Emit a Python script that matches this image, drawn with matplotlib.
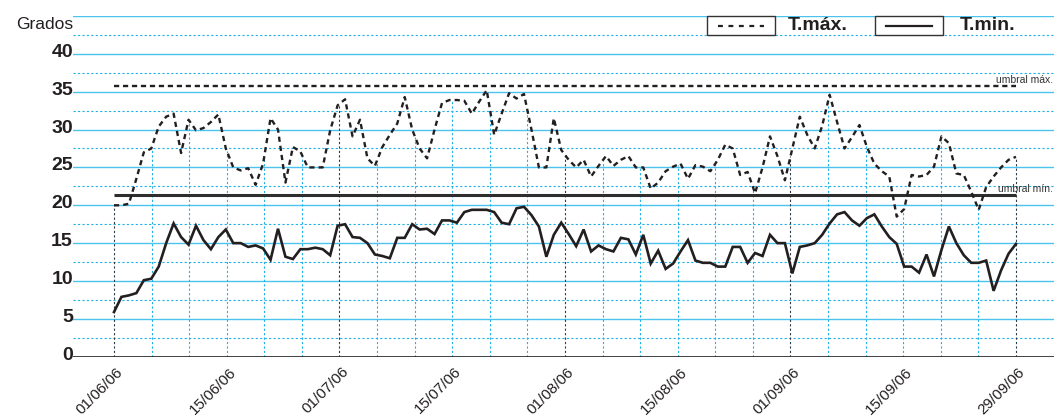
import matplotlib
matplotlib.use("Agg")
import matplotlib.pyplot as plt
import numpy as np
from matplotlib.patches import Rectangle
from matplotlib.lines import Line2D
from matplotlib.transforms import ScaledTranslation, blended_transform_factory

plt.rcParams["font.family"] = ["Liberation Sans", "DejaVu Sans"]

# Temperaturas diarias, 01/06/06 - 30/09/06 (grados)
t_max = [
    20.0, 20.0, 20.2, 23.5, 27.0, 27.5, 30.4, 31.7, 32.1, 26.9,
    31.3, 29.9, 30.2, 31.0, 32.0, 27.5, 25.0, 24.6, 24.9, 22.7,
    25.5, 31.5, 30.0, 23.0, 27.7, 27.1, 25.0, 25.0, 25.0, 29.9,
    33.2, 34.0, 29.1, 31.3, 26.2, 25.2, 27.7, 29.3, 30.8, 34.3,
    30.0, 27.5, 26.2, 30.0, 33.5, 33.9, 33.9, 33.8, 32.1, 33.7,
    35.2, 29.3, 32.1, 34.8, 34.1, 34.7, 30.0, 25.0, 25.0, 31.5,
    27.3, 26.0, 25.0, 26.0, 23.8, 25.2, 26.5, 25.2, 26.0, 26.5,
    25.0, 25.0, 22.2, 23.0, 24.5, 25.1, 25.5, 23.5, 25.3, 25.1,
    24.5, 26.0, 28.0, 27.5, 24.0, 24.4, 21.6, 25.0, 29.1, 26.5,
    23.3, 27.5, 31.7, 29.3, 27.5, 30.5, 34.6, 31.0, 27.5, 29.0,
    30.6, 27.7, 25.5, 24.5, 23.8, 18.5, 19.5, 24.0, 23.8, 24.0,
    25.1, 29.1, 28.2, 24.2, 24.0, 21.8, 19.4, 22.4, 23.8, 25.0,
    26.0, 26.4,
]
t_min = [
    5.9, 7.9, 8.1, 8.4, 10.1, 10.3, 11.9, 15.0, 17.6, 15.8,
    14.8, 17.3, 15.4, 14.2, 15.8, 16.8, 15.0, 15.0, 14.5, 14.7,
    14.3, 12.8, 16.9, 13.2, 12.9, 14.2, 14.2, 14.4, 14.2, 13.4,
    17.3, 17.5, 15.8, 15.7, 15.0, 13.5, 13.3, 13.0, 15.7, 15.7,
    17.5, 16.8, 16.9, 16.2, 18.0, 18.0, 17.7, 19.1, 19.4, 19.4,
    19.4, 19.1, 17.7, 17.5, 19.6, 19.8, 18.7, 17.2, 13.2, 16.1,
    17.7, 16.2, 14.6, 16.8, 13.9, 14.7, 14.2, 13.9, 15.7, 15.5,
    13.5, 16.1, 12.3, 14.0, 11.6, 12.3, 13.9, 15.4, 12.7, 12.4,
    12.4, 11.9, 11.9, 14.5, 14.5, 12.4, 13.7, 13.3, 16.1, 15.0,
    15.0, 11.0, 14.5, 14.7, 15.0, 16.1, 17.6, 18.8, 19.1, 18.0,
    17.3, 18.3, 18.8, 17.2, 15.8, 14.9, 11.9, 11.9, 11.1, 13.5,
    10.6, 14.1, 17.2, 15.0, 13.4, 12.4, 12.4, 12.7, 8.7, 11.4,
    13.6, 14.9,
]
umbral_max = 35.7
umbral_min = 21.4

tick_labels = ["01/06/06", "15/06/06", "01/07/06", "15/07/06", "01/08/06",
               "15/08/06", "01/09/06", "15/09/06", "29/09/06"]
y_ticks = [0, 5, 10, 15, 20, 25, 30, 35, 40]

BLUE = "#4cc3ee"
BLUE_DOT = "#1fb1e7"
INK = "#231f20"

dias = np.arange(len(t_max))
last = dias[-1]
tick_pos = np.linspace(0, last, len(tick_labels))
grid_pos = np.linspace(0, last, 25)

W, H = 1054, 417
fig = plt.figure(figsize=(W / 100, H / 100), dpi=100)
ax = fig.add_axes([73 / W, 60.3 / H, 1 - 73 / W, 340.7 / H])
ax.set_xlim(-5.5, 126.1)
ax.set_ylim(0, 45)
ax.set_axis_off()

# horizontal grid
for v in range(5, 50, 5):
    ax.axhline(v, color=BLUE, lw=1.0, zorder=1)
for v in np.arange(2.5, 45, 5):
    ax.axhline(v, color=BLUE_DOT, lw=0.8, ls=(0, (2, 2)), zorder=1)
ax.axhline(0, color="#333333", lw=1.3, zorder=3)

# drop lines from T.max down to the axis
tops = np.interp(grid_pos, dias, t_max)
dark = np.zeros(len(grid_pos), bool)
dark[::6] = True
ax.vlines(grid_pos[~dark], 0, tops[~dark], colors=BLUE_DOT, lw=0.8,
          linestyles=(0, (2, 2)), zorder=1)
ax.vlines(grid_pos[dark], 0, tops[dark], colors="#2b3a44", lw=0.8,
          linestyles=(0, (2, 2)), zorder=2)

# thresholds
ax.hlines(umbral_max, dias[0], last, colors=INK, lw=1.7,
          linestyles=(0, (2.2, 1.6)), zorder=3)
ax.hlines(umbral_min, dias[0], last, colors="#2e2e2e", lw=2.2, zorder=3)

# series
ax.plot(dias, t_max, color=INK, lw=1.7, ls=(0, (2.2, 1.7)), zorder=4)
ax.plot(dias, t_min, color=INK, lw=1.9, zorder=4, solid_joinstyle="miter")

# axis labels
ytr = blended_transform_factory(ax.transAxes, ax.transData) + \
    ScaledTranslation(0, -3 / 100, fig.dpi_scale_trans)
for v in y_ticks:
    ax.text(0, v, str(v), transform=ytr, ha="right", va="baseline",
            fontsize=14, fontweight="bold", color=INK)
xtr = ax.transData + ScaledTranslation(2 / 100, -8 / 100, fig.dpi_scale_trans)
for p, lab in zip(tick_pos, tick_labels):
    ax.text(p, 0, lab, transform=xtr, rotation=45, rotation_mode="anchor",
            ha="right", va="top", fontsize=11, color=INK)

fig.text(73 / W, 1 - 29.3 / H, "Grados", ha="right", va="baseline",
         fontsize=12.5, color=INK)

ax.text(last, umbral_max, "umbral máx.", ha="left", va="bottom",
        fontsize=7.5, color="#333333",
        transform=ax.transData + ScaledTranslation(-20 / 100, 1 / 100, fig.dpi_scale_trans))
ax.text(last, umbral_min, "umbral mín.", ha="left", va="bottom",
        fontsize=7.5, color="#333333",
        transform=ax.transData + ScaledTranslation(-18 / 100, 1 / 100, fig.dpi_scale_trans))


# legend (drawn by hand, pixel layout)
def fx(px):
    return px / W


def fy(py):
    return 1 - py / H


for x0, x1, style, label, tx in [(707, 775, (0, (2.2, 2.5)), "T.máx.", 788),
                                 (875, 943, "-", "T.min.", 960)]:
    fig.patches.append(Rectangle((fx(x0), fy(35)), fx(x1 - x0), 19 / H,
                                 transform=fig.transFigure, facecolor="white",
                                 edgecolor="#333333", lw=1.0, zorder=5))
    fig.lines.append(Line2D([fx(x0 + 11), fx(x1 - 11)], [fy(25.5), fy(25.5)],
                            transform=fig.transFigure, color=INK, lw=1.6,
                            ls=style, zorder=6))
    fig.text(fx(tx), fy(26), label, ha="left", va="center", fontsize=14,
             fontweight="bold", color=INK, zorder=6)

fig.savefig("out.png", dpi=100)
